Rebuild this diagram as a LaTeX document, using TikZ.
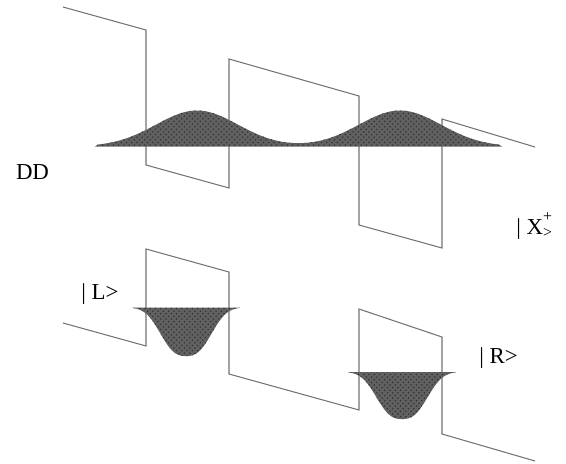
\documentclass[tikz,border=0pt]{standalone}
\usepackage{fontspec}
\setmainfont{Liberation Serif}
\usetikzlibrary{patterns}

\tikzset{
  well/.style={draw=black!55, line width=0.6pt, line join=miter},
  wave/.style={fill=black!62, postaction={pattern=crosshatch dots, pattern color=black!80}},
  ket/.style={font=\fontsize{13}{15}\selectfont, inner sep=0pt}
}

\begin{document}
\begin{tikzpicture}[x=0.02cm, y=-0.02cm]

\useasboundingbox (0,0) rectangle (566,464);

% DD: double well, tilted
\draw[well] (63,7) -- (146,30) -- (146,165) -- (229,188) -- (229,59) -- (359,96)
  -- (359,225) -- (442,248) -- (442,119) -- (535,147);

% |X+>
\fill[wave] (95,146.5) -- plot[domain=98:499, samples=140]
  (\x, {146.5-36*(exp(-((\x-197)/41)^2/2)+exp(-((\x-400)/41)^2/2))}) -- (502,146.5) -- cycle;

% lower well
\draw[well] (63,323) -- (146,346) -- (146,249) -- (229,272) -- (229,374) -- (359,410)
  -- (359,309) -- (442,337) -- (442,434) -- (535,461);

% |L>
\fill[wave] (132,307.5) -- plot[domain=133:239, samples=90]
  (\x, {307.5+48.5*exp(-((abs(\x-186)+0.01)/30.5)^2.7)}) -- (240,307.5) -- cycle;

% |R>
\fill[wave] (348,372) -- plot[domain=349:455, samples=90]
  (\x, {372+47*exp(-((abs(\x-402)+0.01)/30.5)^2.7)}) -- (456,372) -- cycle;

\node[ket] (dd) at (32.5,172.5) {DD};
\node[ket, anchor=west] (ketl) at (81,294) {| L>};
\node[ket, anchor=west] (ketr) at (479,358) {| R>};
\node[ket, anchor=west] (ketx) at (516,226)
  {| X\makebox[0pt][l]{\raisebox{1.2ex}{\small +}}\raisebox{-0.3ex}{\small >}};

\end{tikzpicture}
\end{document}
